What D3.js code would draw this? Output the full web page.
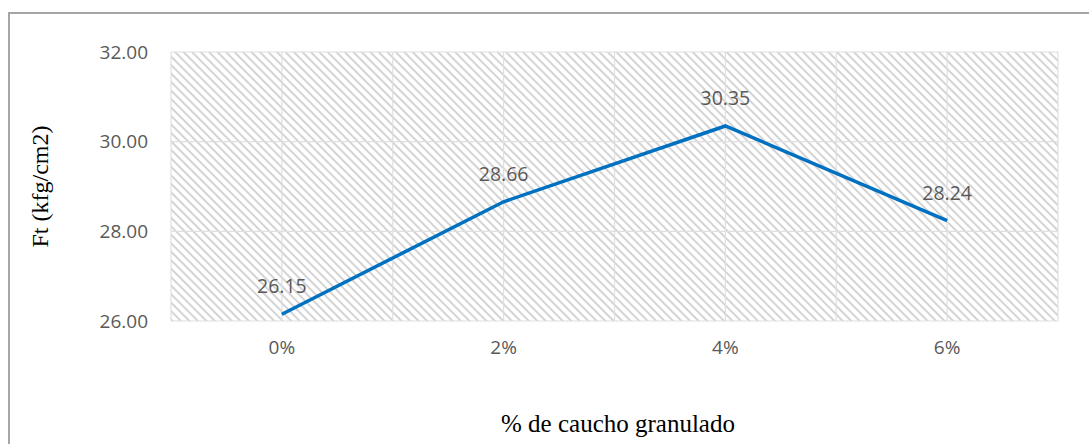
<!DOCTYPE html>
<html>
<head>
<meta charset="utf-8">
<script src="https://cdn.jsdelivr.net/npm/d3@7"></script>
<style>
  html, body { margin: 0; padding: 0; background: #fff; }
  svg { display: block; }
</style>
</head>
<body>
<svg id="chart" width="1089" height="444"></svg>
<script>
// Tensile strength vs. crumb rubber content
const categories = ["0%", "2%", "4%", "6%"];
const values = [26.15, 28.66, 30.35, 28.24];
const yTicks = [26, 28, 30, 32];

const W = 1089, H = 444;
const plot = { left: 171, right: 1058, top: 52, bottom: 321 };

const svg = d3.select("#chart");

// outer chart frame (top + left edges visible)
svg.append("path")
  .attr("d", `M9,${H} L9,13 L${W},13`)
  .attr("fill", "none")
  .attr("stroke", "#a6a6a6")
  .attr("stroke-width", 2);

// diagonal hatch fill for the plot area
const defs = svg.append("defs");
const pat = defs.append("pattern")
  .attr("id", "hatch")
  .attr("patternUnits", "userSpaceOnUse")
  .attr("width", 6).attr("height", 6)
  .attr("patternTransform", "rotate(45)");
pat.append("rect").attr("width", 6).attr("height", 6).attr("fill", "#ffffff");
pat.append("line")
  .attr("x1", 0).attr("y1", 3).attr("x2", 6).attr("y2", 3)
  .attr("stroke", "#c6c6c6").attr("stroke-width", 1.5);

const x = d3.scaleBand()
  .domain(categories)
  .range([plot.left, plot.right])
  .paddingInner(0).paddingOuter(0);

const y = d3.scaleLinear()
  .domain([26, 32])
  .range([plot.bottom, plot.top]);

svg.append("rect")
  .attr("x", plot.left).attr("y", plot.top)
  .attr("width", plot.right - plot.left)
  .attr("height", plot.bottom - plot.top)
  .attr("fill", "url(#hatch)");

// gridlines
const grid = svg.append("g").attr("stroke", "#e0e0e0").attr("stroke-width", 1.2);
grid.selectAll("line.h").data(yTicks).join("line")
  .attr("class", "h")
  .attr("x1", plot.left).attr("x2", plot.right)
  .attr("y1", d => y(d)).attr("y2", d => y(d));
const vLines = [];
categories.forEach((c, i) => {
  vLines.push(x(c) + x.bandwidth() / 2);
  if (i > 0) vLines.push(x(c));
});
vLines.push(plot.left, plot.right);
grid.selectAll("line.v").data(vLines).join("line")
  .attr("class", "v")
  .attr("x1", d => d).attr("x2", d => d)
  .attr("y1", plot.top).attr("y2", plot.bottom);

// y axis labels
const yAxis = d3.axisLeft(y).tickValues(yTicks).tickFormat(d3.format(".2f")).tickSize(0).tickPadding(23);
const gy = svg.append("g").attr("transform", `translate(${plot.left},0)`).call(yAxis);
gy.select(".domain").remove();
gy.selectAll("text")
  .attr("fill", "#595959")
  .style("font-family", "'Open Sans', 'Noto Sans', sans-serif")
  .style("font-size", "19px");

// x axis labels
const xAxis = d3.axisBottom(x).tickSize(0).tickPadding(20);
const gx = svg.append("g").attr("transform", `translate(0,${plot.bottom})`).call(xAxis);
gx.select(".domain").remove();
gx.selectAll("text")
  .attr("fill", "#595959")
  .style("font-family", "'Open Sans', 'Noto Sans', sans-serif")
  .style("font-size", "19px");

// series line
const line = d3.line()
  .x((d, i) => x(categories[i]) + x.bandwidth() / 2)
  .y(d => y(d));
svg.append("path")
  .datum(values)
  .attr("d", line)
  .attr("fill", "none")
  .attr("stroke", "#0070c0")
  .attr("stroke-width", 3.5)
  .attr("stroke-linejoin", "miter");

// value labels
svg.append("g").selectAll("text").data(values).join("text")
  .attr("x", (d, i) => x(categories[i]) + x.bandwidth() / 2)
  .attr("y", d => y(d) - 21)
  .attr("text-anchor", "middle")
  .attr("fill", "#595959")
  .style("font-family", "'Open Sans', 'Noto Sans', sans-serif")
  .style("font-size", "19.5px")
  .text(d => d3.format(".2f")(d));

// axis titles
svg.append("text")
  .attr("transform", `translate(48,${(plot.top + plot.bottom) / 2}) rotate(-90)`)
  .attr("text-anchor", "middle")
  .attr("fill", "#000")
  .style("font-family", "'Liberation Serif', 'DejaVu Serif', serif")
  .style("font-size", "24px")
  .text("Ft (kfg/cm2)");

svg.append("text")
  .attr("x", 618)
  .attr("y", 432)
  .attr("text-anchor", "middle")
  .attr("fill", "#000")
  .style("font-family", "'Liberation Serif', 'DejaVu Serif', serif")
  .style("font-size", "25px")
  .text("% de caucho granulado");
</script>
</body>
</html>
